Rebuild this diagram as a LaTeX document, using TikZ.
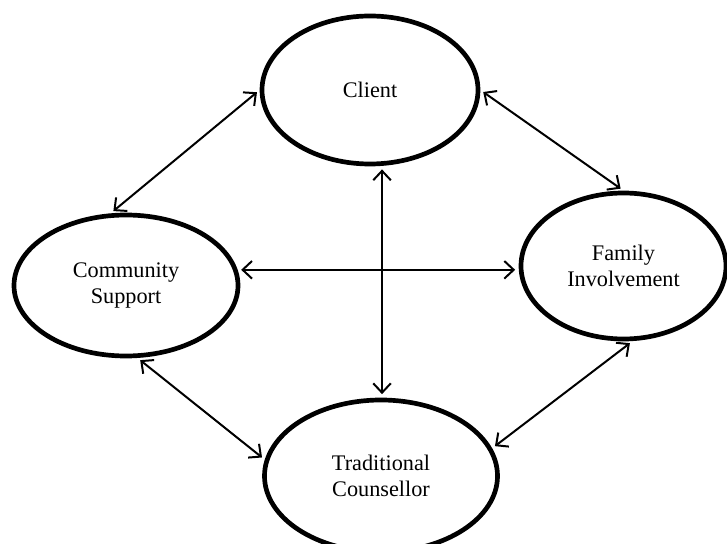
\documentclass[tikz,border=0pt]{standalone}
\usepackage{fontspec}
\setmainfont{Liberation Serif}
\usetikzlibrary{shapes.geometric, arrows.meta}

\begin{document}
\begin{tikzpicture}[x=0.03cm, y=-0.03cm,
	party/.style={ellipse, draw, line width=4pt, inner sep=0pt, align=center,
		font=\fontsize{19}{22}\selectfont},
	link/.style={{Straight Barb[length=8pt,width=15pt]}-{Straight Barb[length=8pt,width=15pt]},
		line width=1.7pt, shorten <=3pt, shorten >=3pt}]
	\useasboundingbox (0,0) rectangle (727,544);
	
	% Ellipses
	\node[party, minimum width=6.48cm, minimum height=4.44cm] (client) at (370,90) {Client};
	\node[party, minimum width=6.72cm, minimum height=4.23cm] (community) at (126,285.5) {Community\\Support};
	\node[party, minimum width=6.15cm, minimum height=4.38cm] (family) at (623.5,266) {Family\\Involvement};
	\node[party, minimum width=6.99cm, minimum height=4.56cm] (traditional) at (381,476) {Traditional\\Counsellor};
	
	% Arrows
	\draw[link] (client.west) -- (community.102);
	\draw[link] (client.east) -- (family.north);
	\draw[link] (client.-81) -- (client.-81 |- traditional.north);
	\draw[link] (community.8) -- (community.8 -| family.west);
	\draw[link] (community.-81) -- (traditional.172);
	\draw[link] (family.-83) -- (traditional.14);
	
\end{tikzpicture}
\end{document}
